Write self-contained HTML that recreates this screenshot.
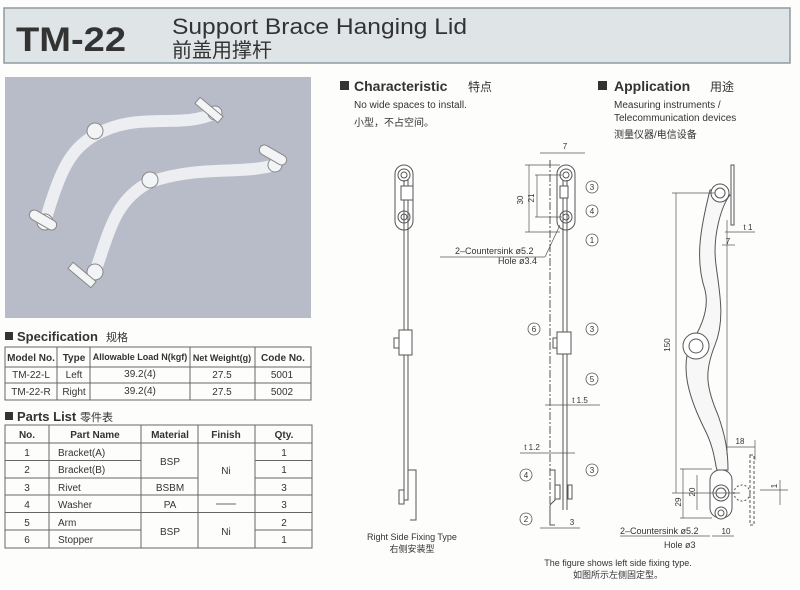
<!DOCTYPE html>
<html><head><meta charset="utf-8"><style>
body{margin:0;background:#fff;width:800px;height:585px;overflow:hidden;font-family:"Liberation Sans","Noto Sans CJK SC",sans-serif}
svg text{font-family:"Liberation Sans","Noto Sans CJK SC",sans-serif;fill:#333}
</style></head><body>
<svg width="800" height="585" viewBox="0 0 800 585" xmlns="http://www.w3.org/2000/svg">
<rect width="800" height="585" fill="#fdfdfc"/>
<!-- header -->
<rect x="4" y="8" width="786" height="55" fill="#dfe4e7" stroke="#8c9ca2" stroke-width="1.5"/>
<text x="16" y="51" font-size="34" font-weight="bold" fill="#3a3a3a" textLength="110" lengthAdjust="spacingAndGlyphs">TM-22</text>
<text x="172" y="34" font-size="22" fill="#444" textLength="295" lengthAdjust="spacingAndGlyphs">Support Brace Hanging Lid</text>
<text x="172" y="57" font-size="20" fill="#444">前盖用撑杆</text>
<!-- photo -->
<rect x="5" y="77" width="306" height="241" fill="#b7bcc8"/>
<g fill="none" stroke-linecap="round">
<path d="M45 222 C60 170,70 150,95 135 C140 110,180 130,215 113" stroke="#eceef2" stroke-width="12"/>
<path d="M95 272 C110 230,115 200,150 182 C200 165,240 175,275 165" stroke="#eceef2" stroke-width="12"/>
</g>
<g fill="#f3f4f6" stroke="#888" stroke-width="1">
<circle cx="95" cy="131" r="8"/><circle cx="215" cy="113" r="7"/><circle cx="45" cy="222" r="8"/>
<circle cx="150" cy="180" r="8"/><circle cx="275" cy="165" r="7"/><circle cx="95" cy="272" r="8"/>
<rect x="205" y="95" width="8" height="30" transform="rotate(-50 209 110)"/>
<rect x="28" y="215" width="30" height="10" rx="5" transform="rotate(30 43 220)"/>
<rect x="258" y="150" width="30" height="10" rx="5" transform="rotate(30 273 155)"/>
<rect x="78" y="260" width="8" height="30" transform="rotate(-50 82 275)"/>
</g>
<!-- Specification -->
<rect x="5" y="332" width="8" height="8" fill="#333"/>
<text x="17" y="341" font-size="13" font-weight="bold">Specification</text>
<text x="106" y="341" font-size="11">规格</text>
<g stroke="#666" stroke-width="1" fill="none">
<rect x="5" y="347" width="306" height="53"/>
<line x1="5" y1="367" x2="311" y2="367"/><line x1="5" y1="383" x2="311" y2="383"/>
<line x1="57" y1="347" x2="57" y2="400"/><line x1="90" y1="347" x2="90" y2="400"/>
<line x1="190" y1="347" x2="190" y2="400"/><line x1="255" y1="347" x2="255" y2="400"/>
</g>
<g font-size="10" text-anchor="middle">
<text x="31" y="361" font-weight="bold">Model No.</text><text x="74" y="361" font-weight="bold">Type</text>
<text x="140" y="360" font-weight="bold" font-size="9">Allowable Load N(kgf)</text><text x="222" y="361" font-weight="bold" font-size="9">Net Weight(g)</text><text x="283" y="361" font-weight="bold">Code No.</text>
<text x="31" y="378">TM-22-L</text><text x="74" y="378">Left</text><text x="140" y="377">39.2(4)</text><text x="222" y="378">27.5</text><text x="282" y="378">5001</text>
<text x="31" y="395">TM-22-R</text><text x="74" y="395">Right</text><text x="140" y="394">39.2(4)</text><text x="222" y="395">27.5</text><text x="282" y="395">5002</text>
</g>
<!-- Parts list -->
<rect x="5" y="412" width="8" height="8" fill="#333"/>
<text x="17" y="421" font-size="13" font-weight="bold">Parts List</text>
<text x="80" y="421" font-size="11">零件表</text>
<g stroke="#666" stroke-width="1" fill="none">
<rect x="5" y="425" width="307" height="123"/>
<line x1="5" y1="443" x2="312" y2="443"/>
<line x1="5" y1="460.5" x2="141" y2="460.5"/><line x1="255" y1="460.5" x2="312" y2="460.5"/>
<line x1="5" y1="478" x2="198" y2="478"/><line x1="255" y1="478" x2="312" y2="478"/>
<line x1="5" y1="495" x2="312" y2="495"/><line x1="5" y1="512.5" x2="312" y2="512.5"/>
<line x1="5" y1="530" x2="141" y2="530"/><line x1="255" y1="530" x2="312" y2="530"/>
<line x1="49" y1="425" x2="49" y2="548"/><line x1="141" y1="425" x2="141" y2="548"/>
<line x1="198" y1="425" x2="198" y2="548"/><line x1="255" y1="425" x2="255" y2="548"/>
<line x1="216" y1="504" x2="236" y2="504"/>
</g>
<g font-size="10" text-anchor="middle">
<text x="27" y="438" font-weight="bold">No.</text><text x="95" y="438" font-weight="bold">Part Name</text>
<text x="170" y="438" font-weight="bold">Material</text><text x="226" y="438" font-weight="bold">Finish</text><text x="284" y="438" font-weight="bold">Qty.</text>
<text x="27" y="456">1</text><text x="27" y="473">2</text><text x="27" y="491">3</text><text x="27" y="508">4</text><text x="27" y="526">5</text><text x="27" y="543">6</text>
<text x="284" y="456">1</text><text x="284" y="473">1</text><text x="284" y="491">3</text><text x="284" y="508">3</text><text x="284" y="526">2</text><text x="284" y="543">1</text>
<text x="170" y="465">BSP</text><text x="170" y="491">BSBM</text><text x="170" y="508">PA</text><text x="170" y="535">BSP</text>
<text x="226" y="474">Ni</text><text x="226" y="535">Ni</text>
</g>
<g font-size="10">
<text x="58" y="456">Bracket(A)</text><text x="58" y="473">Bracket(B)</text><text x="58" y="491">Rivet</text>
<text x="58" y="508">Washer</text><text x="58" y="526">Arm</text><text x="58" y="543">Stopper</text>
</g>
<!-- Characteristic / Application -->
<rect x="340" y="81" width="9" height="9" fill="#333"/>
<text x="354" y="91" font-size="14" font-weight="bold">Characteristic</text>
<text x="468" y="91" font-size="12">特点</text>
<text x="354" y="108" font-size="10">No wide spaces to install.</text>
<text x="354" y="126" font-size="10">小型，不占空间。</text>
<rect x="598" y="81" width="9" height="9" fill="#333"/>
<text x="614" y="91" font-size="14" font-weight="bold">Application</text>
<text x="710" y="91" font-size="12">用途</text>
<text x="614" y="108" font-size="10">Measuring instruments /</text>
<text x="614" y="121" font-size="10">Telecommunication devices</text>
<text x="614" y="138" font-size="10">测量仪器/电信设备</text>
<!-- left drawing -->
<g stroke="#555" stroke-width="1" fill="#fff">
<rect x="395" y="165" width="18" height="65" rx="9"/>
<circle cx="404" cy="175" r="6"/><circle cx="404" cy="175" r="3"/>
<circle cx="404" cy="217" r="6"/><circle cx="404" cy="217" r="3"/>
<line x1="404" y1="180" x2="404" y2="500"/><line x1="408" y1="180" x2="408" y2="500"/>
<rect x="399" y="330" width="13" height="25"/><rect x="394" y="338" width="5" height="10"/>
<rect x="401" y="186" width="12" height="14"/>
<path d="M404 500 L408 500 L408 470 L416 470 L416 520 L410 520" fill="none"/>
<rect x="399" y="490" width="5" height="14"/>
</g>
<text x="412" y="540" font-size="9" text-anchor="middle">Right Side Fixing Type</text>
<text x="412" y="552" font-size="9" text-anchor="middle">右侧安装型</text>
<!-- middle drawing -->
<g stroke="#555" stroke-width="1" fill="#fff">
<line x1="550" y1="160" x2="550" y2="520" stroke-dasharray="8 2 2 2"/>
<rect x="557" y="165" width="18" height="65" rx="9"/>
<circle cx="566" cy="175" r="6"/><circle cx="566" cy="175" r="3"/>
<circle cx="566" cy="217" r="6"/><circle cx="566" cy="217" r="3"/>
<line x1="563" y1="180" x2="563" y2="510"/><line x1="567" y1="180" x2="567" y2="510"/>
<rect x="557" y="332" width="14" height="22"/><rect x="553" y="338" width="4" height="10"/>
<rect x="560" y="186" width="8" height="12"/>
<path d="M550 470 L555 470 L555 500 L550 505 L550 525 L555 525" fill="none"/>
<rect x="555" y="485" width="5" height="14"/><rect x="568" y="485" width="4" height="14"/>
</g>
<g stroke="#555" stroke-width="0.7" fill="none">
<line x1="525" y1="165" x2="560" y2="165"/><line x1="525" y1="232" x2="560" y2="232"/>
<line x1="529" y1="165" x2="529" y2="232"/><line x1="537" y1="175" x2="537" y2="217"/>
<line x1="535" y1="175" x2="562" y2="175"/><line x1="535" y1="217" x2="562" y2="217"/>
<line x1="540" y1="153" x2="585" y2="153"/>
<line x1="440" y1="257" x2="545" y2="257"/><line x1="545" y1="257" x2="560" y2="225"/>
<line x1="545" y1="405" x2="600" y2="405"/>
<line x1="520" y1="453" x2="575" y2="453"/>
<line x1="540" y1="528" x2="580" y2="528"/>
</g>
<g font-size="8" text-anchor="middle">
<text x="565" y="149">7</text>
<text x="523" y="200" transform="rotate(-90 523 200)">30</text>
<text x="534" y="198" transform="rotate(-90 534 198)">21</text>
<text x="580" y="403">t 1.5</text><text x="532" y="450">t 1.2</text><text x="572" y="525">3</text>
</g>
<text x="455" y="254" font-size="9">2–Countersink ø5.2</text>
<text x="498" y="264" font-size="9">Hole ø3.4</text>
<g stroke="#555" stroke-width="0.8" fill="#fff">
<circle cx="592" cy="187" r="6"/><circle cx="592" cy="211" r="6"/><circle cx="592" cy="240" r="6"/>
<circle cx="534" cy="329" r="6"/><circle cx="592" cy="329" r="6"/><circle cx="592" cy="379" r="6"/>
<circle cx="526" cy="475" r="6"/><circle cx="592" cy="470" r="6"/><circle cx="526" cy="519" r="6"/>
</g>
<g font-size="8" text-anchor="middle">
<text x="592" y="190">3</text><text x="592" y="214">4</text><text x="592" y="243">1</text>
<text x="534" y="332">6</text><text x="592" y="332">3</text><text x="592" y="382">5</text>
<text x="526" y="478">4</text><text x="592" y="473">3</text><text x="526" y="522">2</text>
</g>
<!-- right drawing -->
<g stroke="#555" stroke-width="1" fill="#fff">
<rect x="731" y="165" width="3" height="60"/>
<path d="M710 190 C700 230,695 260,705 290 C710 310,700 330,690 345 C680 370,690 400,705 430 C715 450,715 465,717 470 L728 470 C728 450,725 435,718 415 C705 385,705 370,715 345 C725 320,720 295,716 265 C712 235,722 205,730 195 Z" fill="#f7f7f7"/>
<circle cx="720" cy="193" r="9"/><circle cx="720" cy="193" r="5"/>
<circle cx="696" cy="346" r="13"/><circle cx="696" cy="346" r="7"/>
<rect x="710" y="470" width="22" height="48" rx="10"/>
<circle cx="721" cy="493" r="8"/><circle cx="721" cy="493" r="5"/>
<circle cx="721" cy="513" r="6"/><circle cx="721" cy="513" r="3"/>
<rect x="750" y="455" width="4" height="70" stroke-dasharray="3 2" fill="none"/>
<circle cx="742" cy="493" r="8" stroke-dasharray="2 2" fill="none"/>
</g>
<g stroke="#555" stroke-width="0.7" fill="none">
<line x1="672" y1="193" x2="715" y2="193"/><line x1="676" y1="193" x2="676" y2="493"/>
<line x1="672" y1="493" x2="740" y2="493"/>
<line x1="680" y1="469" x2="712" y2="469"/><line x1="680" y1="518" x2="712" y2="518"/>
<line x1="683" y1="469" x2="683" y2="518"/><line x1="697" y1="475" x2="697" y2="510"/>
<line x1="725" y1="232" x2="755" y2="232"/><line x1="722" y1="245" x2="735" y2="245"/>
<line x1="727" y1="447" x2="755" y2="447"/><line x1="755" y1="440" x2="755" y2="460"/>
<line x1="727" y1="220" x2="727" y2="455"/>
<line x1="712" y1="536" x2="734" y2="536"/>
<line x1="620" y1="536" x2="710" y2="536"/>
<line x1="780" y1="480" x2="780" y2="505"/><line x1="760" y1="490" x2="788" y2="490"/>
</g>
<g font-size="8" text-anchor="middle">
<text x="670" y="345" transform="rotate(-90 670 345)">150</text>
<text x="748" y="230">t 1</text><text x="728" y="244">7</text><text x="740" y="444">18</text>
<text x="695" y="492" transform="rotate(-90 695 492)">20</text>
<text x="681" y="502" transform="rotate(-90 681 502)">29</text>
<text x="726" y="534">10</text>
<text x="777" y="486" transform="rotate(-90 777 486)">1</text>
</g>
<text x="620" y="534" font-size="9">2–Countersink ø5.2</text>
<text x="664" y="548" font-size="9">Hole ø3</text>
<text x="618" y="566" font-size="9" text-anchor="middle">The figure shows left side fixing type.</text>
<text x="618" y="578" font-size="9" text-anchor="middle">如图所示左侧固定型。</text>
</svg>
</body></html>
